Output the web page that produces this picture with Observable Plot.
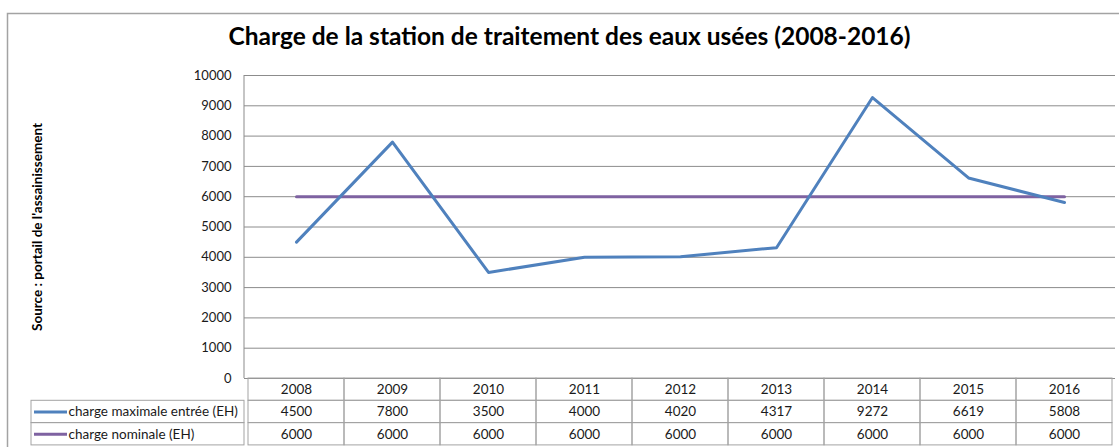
<!DOCTYPE html>
<html>
<head>
<meta charset="utf-8">
<script src="https://cdn.jsdelivr.net/npm/d3@7"></script>
<script src="https://cdn.jsdelivr.net/npm/@observablehq/plot@0.6"></script>
<style>
  html, body { margin: 0; padding: 0; background: #fff; }
  #chart svg { display: block; }
</style>
</head>
<body>
<div id="chart"></div>
<script>
const years = ["2008","2009","2010","2011","2012","2013","2014","2015","2016"];
const chargeMax = [4500, 7800, 3500, 4000, 4020, 4317, 9272, 6619, 5808];
const chargeNom = [6000, 6000, 6000, 6000, 6000, 6000, 6000, 6000, 6000];
const seriesNames = ["charge maximale entrée (EH)", "charge nominale (EH)"];
const yTicks = [0,1000,2000,3000,4000,5000,6000,7000,8000,9000,10000];
const title = "Charge de la station de traitement des eaux usées (2008-2016)";
const source = "Source : portail de l'assainissement";

const W = 1119, H = 447;
const mL = 244, mR = 4, mT = 75, mB = 69;
const rowH = 22.3;
const font = "Lato, 'Open Sans', sans-serif";
const blue = "#4F81BD", purple = "#7E62A1";
const grid = "#8c8c8c", border = "#a3a3a3";
const ink = "#1a1a1a";

const maxData = years.map((y, i) => ({year: y, value: chargeMax[i]}));
const nomData = years.map((y, i) => ({year: y, value: chargeNom[i]}));
const frameW = W - mL - mR;

const chart = Plot.plot({
  width: W, height: H,
  marginLeft: mL, marginRight: mR, marginTop: mT, marginBottom: mB,
  style: {fontFamily: font, fontSize: "13px", background: "#fff", overflow: "visible", color: ink},
  x: {type: "band", domain: years, padding: 0, axis: null},
  y: {domain: [0, 10000], ticks: yTicks, tickSize: 0, tickPadding: 13, label: null, tickFormat: d => String(d)},
  marks: [
    // outer chart border
    Plot.frame({stroke: border, strokeWidth: 1.5, insetLeft: -(mL - 7), insetTop: -(mT - 13), insetRight: -20, insetBottom: -(mB + 20)}),
    // gridlines
    Plot.ruleY(yTicks, {stroke: grid, strokeWidth: 1}),
    // vertical axis line (1px wide rect at the left edge of the frame)
    Plot.rect([0], {y1: 0, y2: 10000, fill: grid, insetLeft: -0.5, insetRight: frameW - 0.5}),
    // table cells: header row, then two data rows (drawn below the y = 0 axis)
    ...[0,1,2].map(r => Plot.rect(years, {
      x: d => d, y1: 0, y2: 0,
      stroke: border, fill: "none", strokeWidth: 1,
      insetTop: r * rowH, insetBottom: -(r + 1) * rowH
    })),
    // legend cells
    ...[1,2].map(r => Plot.rect([0], {
      y1: 0, y2: 0,
      stroke: border, fill: "none", strokeWidth: 1,
      insetLeft: -(mL - 31), insetRight: frameW,
      insetTop: r * rowH, insetBottom: -(r + 1) * rowH
    })),
    // series lines
    Plot.line(nomData, {x: "year", y: "value", stroke: purple, strokeWidth: 3}),
    Plot.line(maxData, {x: "year", y: "value", stroke: blue, strokeWidth: 3}),
    // table text
    Plot.text(years, {x: d => d, y: 0, dy: rowH * 0.5, text: d => d, fontSize: 13.5, fill: ink}),
    Plot.text(maxData, {x: "year", y: 0, dy: rowH * 1.5, text: d => String(d.value), fontSize: 13.5, fill: ink}),
    Plot.text(nomData, {x: "year", y: 0, dy: rowH * 2.5, text: d => String(d.value), fontSize: 13.5, fill: ink}),
    // legend swatches and labels
    ...[0,1].map(i => Plot.ruleY([0], {
      stroke: i === 0 ? blue : purple, strokeWidth: 3,
      dy: rowH * (1.5 + i), insetLeft: -(mL - 34), insetRight: frameW + (mL - 67)
    })),
    ...[0,1].map(i => Plot.text([seriesNames[i]], {
      frameAnchor: "left", y: 0, dy: rowH * (1.5 + i), dx: 68 - mL,
      text: d => d, textAnchor: "start", fontSize: 13.5, fill: ink
    })),
    // title
    Plot.text([title], {
      frameAnchor: "top", dx: 569 - (mL + frameW / 2), dy: -38,
      text: d => d, fontSize: 24.5, fontWeight: "bold", fill: "#000", lineAnchor: "middle"
    }),
    // source (rotated)
    Plot.text([source], {
      frameAnchor: "left", dx: 37 - mL, rotate: -90, textAnchor: "middle",
      text: d => d, fontSize: 13.5, fontWeight: "bold", fill: "#000"
    })
  ]
});
document.getElementById("chart").appendChild(chart);
</script>
</body>
</html>
